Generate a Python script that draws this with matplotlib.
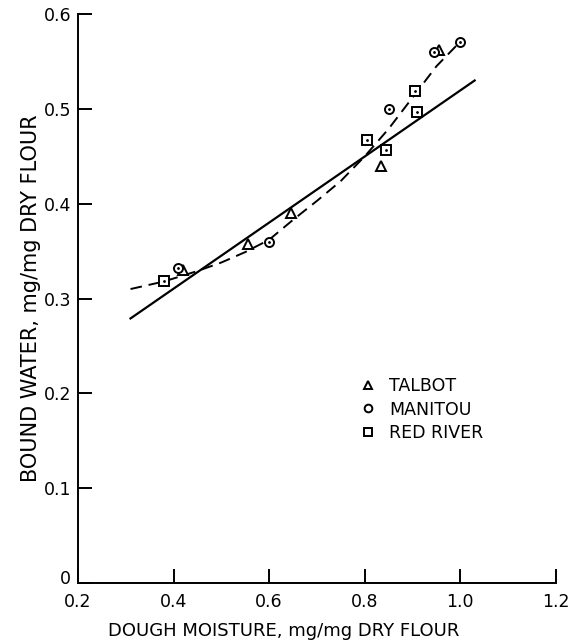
import matplotlib.pyplot as plt
import matplotlib.transforms as mtransforms
import numpy as np

plt.rcParams['font.family'] = ['DejaVu Sans']

talbot_x = [0.42, 0.555, 0.645, 0.835, 0.955]
talbot_y = [0.330, 0.358, 0.390, 0.440, 0.562]

manitou_x = [0.41, 0.60, 0.85, 0.945, 1.00]
manitou_y = [0.332, 0.360, 0.500, 0.560, 0.571]

redriver_x = [0.38, 0.805, 0.845, 0.905, 0.91]
redriver_y = [0.318, 0.467, 0.457, 0.519, 0.497]

# fitted lines
linear_x = [0.31, 1.03]
linear_y = [0.279, 0.530]

curve_x = [0.31, 0.38, 0.45, 0.50, 0.55, 0.60, 0.65, 0.70, 0.75, 0.80, 0.85, 0.90, 0.95, 1.00]
curve_y = [0.310, 0.318, 0.329, 0.338, 0.349, 0.362, 0.383, 0.403, 0.424, 0.450, 0.479, 0.512, 0.545, 0.571]

xticks = [0.2, 0.4, 0.6, 0.8, 1.0, 1.2]
xticklabels = ['0.2', '0.4', '0.6', '0.8', '1.0', '1.2']
yticks = [0, 0.1, 0.2, 0.3, 0.4, 0.5, 0.6]
yticklabels = ['0', '0.1', '0.2', '0.3', '0.4', '0.5', '0.6']

fig = plt.figure(figsize=(5.69, 6.42), dpi=100)
ax = fig.add_axes([0.137, 0.092, 0.840, 0.886])

ax.plot(linear_x, linear_y, 'k-', lw=1.6)
ax.plot(curve_x, curve_y, 'k--', lw=1.4, dashes=(6, 3.5))

mk = dict(ls='none', mfc='white', mec='black', mew=1.4, ms=6.5)
ax.plot(talbot_x, talbot_y, marker='^', label='TALBOT', **mk)
ax.plot(manitou_x, manitou_y, marker='o', label='MANITOU', **mk)
ax.plot(redriver_x, redriver_y, marker='s', label='RED RIVER', **mk)
# centre dots on circles and squares
ax.plot(manitou_x + redriver_x, manitou_y + redriver_y, 'k.', ms=2)

leg = ax.legend(loc='upper left', bbox_to_anchor=(0.555, 0.389), frameon=False,
                handlelength=1.0, handletextpad=0.75, labelspacing=0.3,
                fontsize=12.5, markerscale=0.85)

ax.set_xlim(0.2, 1.2)
ax.set_ylim(0, 0.6)

for s in ['top', 'right']:
    ax.spines[s].set_visible(False)
ax.spines['left'].set_linewidth(1.4)
ax.spines['bottom'].set_linewidth(1.4)
ax.tick_params(axis='x', direction='in', length=10, width=1.4, pad=7, labelsize=12.5)
ax.tick_params(axis='y', direction='in', length=10, width=1.4, pad=5, labelsize=12.5)

ax.set_xticks(xticks)
ax.set_xticklabels(xticklabels)
ax.set_yticks(yticks)
ax.set_yticklabels(yticklabels)

ax.set_xlabel('DOUGH MOISTURE, mg/mg DRY FLOUR', fontsize=13)
ax.xaxis.set_label_coords(0.43, -0.068)
ax.set_ylabel('BOUND WATER, mg/mg DRY FLOUR', fontsize=15)
ax.yaxis.set_label_coords(-0.078, 0.5)

# the "0" on the y axis sits a little above the x axis line
fig.canvas.draw()
zero = ax.yaxis.get_major_ticks()[0].label1
zero.set_transform(zero.get_transform() + mtransforms.ScaledTranslation(0, 4 / 72, fig.dpi_scale_trans))

fig.savefig('out.png', dpi=100)
